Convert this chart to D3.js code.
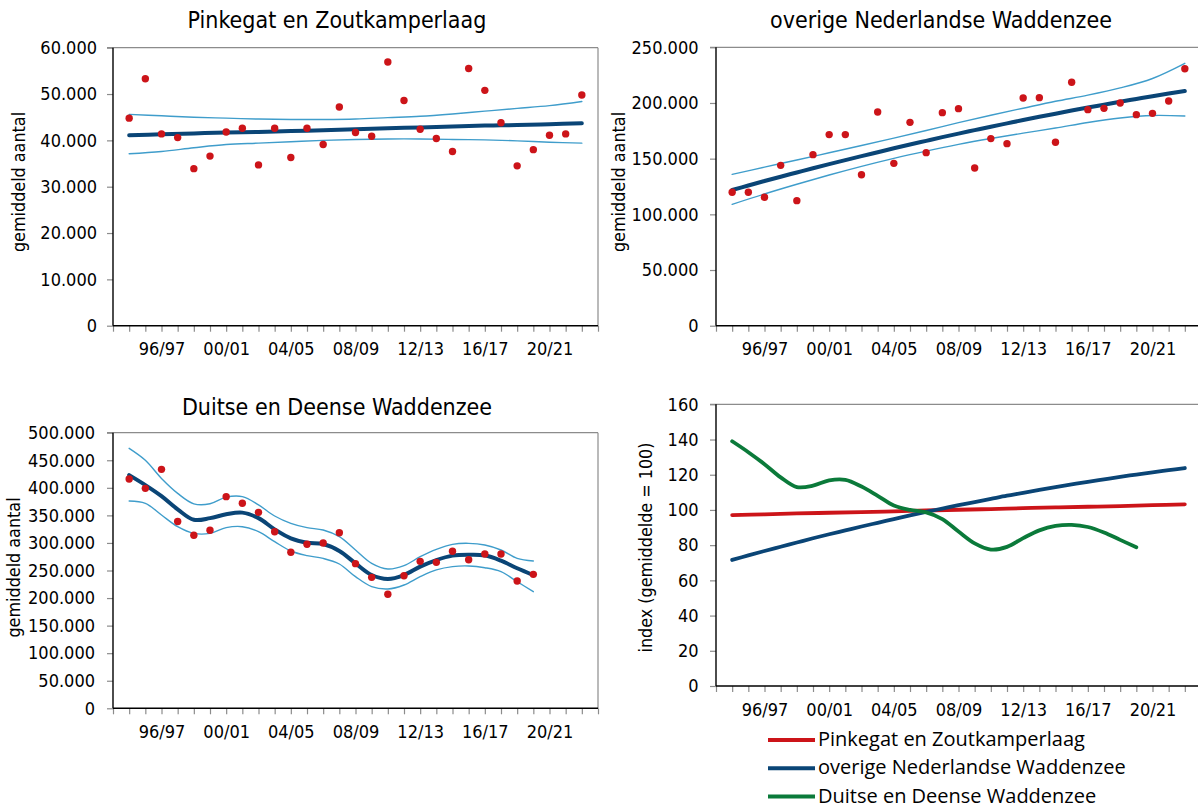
<!DOCTYPE html>
<html>
<head>
<meta charset="utf-8">
<script src="https://cdn.jsdelivr.net/npm/d3@7"></script>
<style>
  body { margin: 0; background: #fff; }
  text { font-family: "DejaVu Sans Condensed", "DejaVu Sans", sans-serif; fill: #000; }
  .legend text { font-family: "Open Sans", sans-serif; }
</style>
</head>
<body>
<svg id="chart" width="1198" height="807"></svg>
<script>
/* DATA */
// x axis categories (seasons), ticks on every one, labels on a few
const seasons = ["93/94","94/95","95/96","96/97","97/98","98/99","99/00","00/01","01/02","02/03",
  "03/04","04/05","05/06","06/07","07/08","08/09","09/10","10/11","11/12","12/13",
  "13/14","14/15","15/16","16/17","17/18","18/19","19/20","20/21","21/22","22/23","23/24"];
const labelSeasons = ["96/97","00/01","04/05","08/09","12/13","16/17","20/21"];
const countSeasons = seasons.slice(1, 30);   // 94/95 .. 22/23
const duitsSeasons = seasons.slice(1, 27);   // 94/95 .. 19/20
const knotSeasons = ["94/95","96/97","98/99","00/01","02/03","04/05","06/07","08/09",
  "10/11","12/13","14/15","16/17","18/19","20/21","22/23"];

// Pinkegat en Zoutkamperlaag
const pinkCounts = [44800,53300,41400,40600,33900,36600,41800,42600,34700,42600,36300,42600,39100,47200,
  41700,40900,56900,48600,42400,40400,37600,55500,50800,43800,34500,38000,41100,41400,49800];
const pinkTrend = [41100,41300,41500,41700,41800,42000,42200,42400,42600,42800,43000,43200,43300,43500,43700];
const pinkUpper = [45600,45300,45000,44800,44600,44500,44500,44600,44900,45200,45700,46300,46900,47500,48400];
const pinkLower = [37100,37600,38400,39100,39400,39700,40000,40200,40300,40300,40200,40100,39900,39600,39400];

// overige Nederlandse Waddenzee
const overigCounts = [119800,119800,115300,144000,112300,153600,171600,171600,135600,191900,145800,182600,
  155400,191300,194900,141600,168000,163500,204500,204800,164700,218600,194000,195200,200000,189500,
  190700,201800,230800];
const overigTrend = [121900,125900,129900,133800,137600,141400,145100,148700,152300,155800,159300,162700,
  166000,169300,172500,175600,178700,181700,184700,187600,190400,193200,195900,198500,201100,203600,
  206100,208500,210800];
const overigUpper = [135900,142400,148800,155300,161800,168500,175300,182300,189000,195300,201500,207000,213500,222000,235600];
const overigLower = [109000,118300,127000,135300,143100,150300,156800,162800,168100,172900,177500,182500,186500,188800,188300];

// Duitse en Deense Waddenzee
const duitsCounts = [416000,399000,433500,339000,314000,323000,384000,372000,355500,320400,283000,297500,
  300000,318600,262400,237600,206800,240600,266600,264800,284800,269600,279900,279900,231000,243000];
const duitsTrend = [423000,405000,385000,361000,342000,345000,352000,355000,345000,324700,308300,300500,
  298000,285400,263000,241800,234600,241800,257000,269000,277000,278700,277500,267800,254000,241800];
const duitsUpper = [471600,450000,417000,390000,371000,371000,383000,384000,369000,348900,335500,327700,
  323500,311400,287200,263000,252700,258800,275000,288400,297500,299300,296300,287200,272000,267200];
const duitsLower = [376000,371800,350700,329500,317400,317400,327700,329500,320400,302300,285400,277000,
  272000,261800,238800,220700,216400,223700,238800,251000,257000,258200,255000,247900,229700,211600];

// index (gemiddelde = 100)
const indexPink = [97.1,97.5,98.0,98.4,98.8,99.2,99.7,100.1,100.5,101.0,101.4,101.8,102.2,102.7,103.2];
const indexOverig = [71.6,74.2,76.7,79.1,81.5,83.9,86.2,88.4,90.6,92.7,94.8,96.9,98.9,100.8,102.7,104.5,
  106.3,108.1,109.7,111.4,113.0,114.5,116.0,117.4,118.8,120.1,121.4,122.6,123.8];
const indexDuits = [139,132.8,126,118.5,113,113.8,116.8,117.1,113.3,108,102.5,100,98.6,94.8,87.7,81,77.5,
  79,84,88.4,90.9,91.5,90.3,87.2,83,78.8];

const countTicks = [0,10000,20000,30000,40000,50000,60000];
const overigTicks = [0,50000,100000,150000,200000,250000];
const duitsTicks = [0,50000,100000,150000,200000,250000,300000,350000,400000,450000,500000];
const indexTicks = [0,20,40,60,80,100,120,140,160];
const legendNames = ["Pinkegat en Zoutkamperlaag","overige Nederlandse Waddenzee","Duitse en Deense Waddenzee"];

/* STYLE */
const RED = "#cc1419", NAVY = "#0a4576", LIGHT = "#3f9dcb", GREEN = "#0b7a3a", GRAY = "#8c8c8c";
const nl = d3.formatLocale({decimal: ",", thousands: ".", grouping: [3], currency: ["€", ""]});
const fmt = nl.format(",.0f");

const svg = d3.select("#chart");

function frame(box, yMax, ticks, pad) {
  const x = d3.scalePoint().domain(seasons).range([box.x0, box.x1]);
  const y = d3.scaleLinear().domain([0, yMax]).range([box.y1, box.y0]);

  // grey top / right border
  svg.append("line").attr("x1", box.x0 - 6).attr("x2", box.x1).attr("y1", box.y0).attr("y2", box.y0)
    .attr("stroke", GRAY).attr("stroke-width", 1.2);
  svg.append("line").attr("x1", box.x1).attr("x2", box.x1).attr("y1", box.y0).attr("y2", box.y1)
    .attr("stroke", GRAY).attr("stroke-width", 1.2);

  const ya = svg.append("g").attr("transform", `translate(${box.x0},0)`)
    .call(d3.axisLeft(y).tickValues(ticks).tickSize(6).tickPadding(pad).tickFormat(fmt));
  ya.select(".domain").remove();
  ya.selectAll(".tick line").attr("stroke", GRAY).attr("stroke-width", 1.2);
  ya.selectAll(".tick text").attr("font-size", 18).attr("font-family", null).attr("fill", "#000");

  const xa = svg.append("g").attr("transform", `translate(0,${box.y1})`)
    .call(d3.axisBottom(x).tickSize(6).tickFormat(d => labelSeasons.includes(d) ? d : ""));
  xa.select(".domain").remove();
  xa.selectAll(".tick line").attr("stroke", GRAY).attr("stroke-width", 1.2);
  xa.selectAll(".tick text").attr("font-size", 18).attr("font-family", null).attr("fill", "#000")
    .attr("y", 29.5).attr("dy", 0);

  // black axis lines
  svg.append("line").attr("x1", box.x0).attr("x2", box.x0).attr("y1", box.y0).attr("y2", box.y1)
    .attr("stroke", "#000").attr("stroke-width", 1.4);
  svg.append("line").attr("x1", box.x0).attr("x2", box.x1).attr("y1", box.y1).attr("y2", box.y1)
    .attr("stroke", "#000").attr("stroke-width", 1.4);
  return {x, y};
}

function yLabel(text, x, y) {
  svg.append("text").attr("transform", `translate(${x},${y}) rotate(-90)`)
    .attr("text-anchor", "middle").attr("font-size", 17.8).text(text);
}

function title(text, x, y) {
  svg.append("text").attr("x", x).attr("y", y).attr("text-anchor", "middle")
    .attr("font-size", 23).text(text);
}

function curve(sc, xs, vs, color, width) {
  const line = d3.line().x((d, i) => sc.x(xs[i])).y(d => sc.y(d)).curve(d3.curveCatmullRom.alpha(0.5));
  svg.append("path").datum(vs).attr("d", line).attr("fill", "none")
    .attr("stroke", color).attr("stroke-width", width).attr("stroke-linecap", "round");
}

function dots(sc, xs, vs) {
  svg.append("g").selectAll("circle").data(vs).join("circle")
    .attr("cx", (d, i) => sc.x(xs[i])).attr("cy", d => sc.y(d)).attr("r", 3.7).attr("fill", RED);
}

/* PANEL 1 */
const p1 = frame({x0: 113, x1: 598, y0: 47.7, y1: 325.7}, 60000, countTicks, 10);
title("Pinkegat en Zoutkamperlaag", 337, 28.3);
yLabel("gemiddeld aantal", 25, 182);
curve(p1, knotSeasons, pinkUpper, LIGHT, 1.4);
curve(p1, knotSeasons, pinkLower, LIGHT, 1.4);
curve(p1, knotSeasons, pinkTrend, NAVY, 4);
dots(p1, countSeasons, pinkCounts);

/* PANEL 2 */
const p2 = frame({x0: 716, x1: 1201, y0: 47.3, y1: 325.7}, 250000, overigTicks, 11.5);
title("overige Nederlandse Waddenzee", 941, 28.3);
yLabel("gemiddeld aantal", 625, 182);
curve(p2, knotSeasons, overigUpper, LIGHT, 1.4);
curve(p2, knotSeasons, overigLower, LIGHT, 1.4);
curve(p2, countSeasons, overigTrend, NAVY, 4);
dots(p2, countSeasons, overigCounts);

/* PANEL 3 */
const p3 = frame({x0: 113, x1: 598, y0: 432.7, y1: 708.3}, 500000, duitsTicks, 12);
title("Duitse en Deense Waddenzee", 337, 415);
yLabel("gemiddeld aantal", 19.5, 567.5);
curve(p3, duitsSeasons, duitsUpper, LIGHT, 1.4);
curve(p3, duitsSeasons, duitsLower, LIGHT, 1.4);
curve(p3, duitsSeasons, duitsTrend, NAVY, 4);
dots(p3, duitsSeasons, duitsCounts);

/* PANEL 4 */
const p4 = frame({x0: 716, x1: 1201, y0: 404.3, y1: 686}, 160, indexTicks, 11.5);
yLabel("index (gemiddelde = 100)", 651.5, 547.5);
curve(p4, knotSeasons, indexPink, RED, 3.8);
curve(p4, countSeasons, indexOverig, NAVY, 3.8);
curve(p4, duitsSeasons, indexDuits, GREEN, 3.8);

/* LEGEND */
const legend = svg.append("g").attr("class", "legend");
const legendColors = [RED, NAVY, GREEN];
const legendY = d3.scalePoint().domain(legendNames).range([740, 796.5]);
legendNames.forEach((name, i) => {
  const yy = legendY(name);
  legend.append("line").attr("x1", 768).attr("x2", 815).attr("y1", yy).attr("y2", yy)
    .attr("stroke", legendColors[i]).attr("stroke-width", 3.8);
  legend.append("text").attr("x", 818).attr("y", yy + 6).attr("font-size", 20).text(name);
});
</script>
</body>
</html>
